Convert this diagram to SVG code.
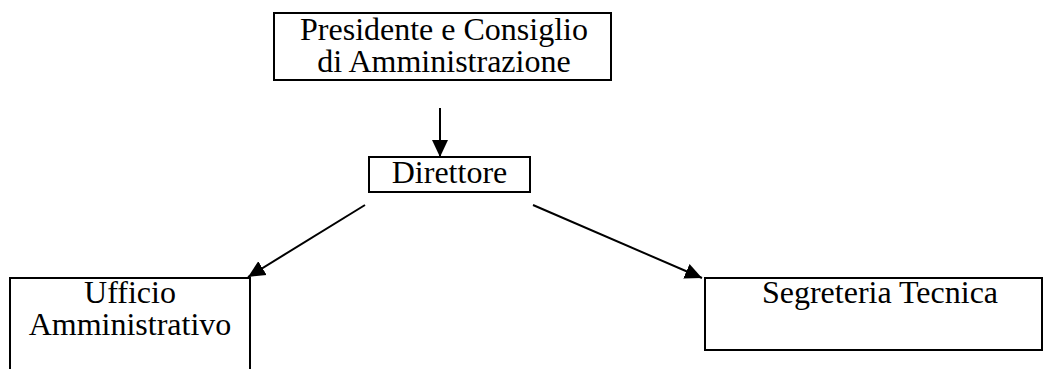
<svg xmlns="http://www.w3.org/2000/svg" width="1045" height="369" viewBox="0 0 1045 369">
<style>
.box{fill:#fff;stroke:#000;stroke-width:2}
.t{font-family:"Liberation Serif","Times New Roman",serif;font-size:32px;fill:#000;text-anchor:middle}
.c{stroke:#000;stroke-width:2;fill:none;marker-end:url(#ah)}
</style>
<defs>
<marker id="ah" markerUnits="userSpaceOnUse" markerWidth="18" markerHeight="18" viewBox="0 0 18 18" refX="17" refY="9" orient="auto">
<path d="M0,1 L17,9 L0,17 Z" fill="#000"/>
</marker>
</defs>
<rect width="1045" height="369" fill="#fff"/>
<g id="connectors">
<line class="c" x1="440" y1="108" x2="440" y2="157"/>
<line class="c" x1="365" y1="205" x2="248" y2="277"/>
<line class="c" x1="533" y1="205" x2="702" y2="278"/>
</g>
<g id="presidente">
<rect class="box" x="274" y="13" width="337" height="67"/>
<text class="t" x="444" y="40">Presidente e Consiglio<tspan x="444" y="72">di Amministrazione</tspan></text>
</g>
<g id="direttore">
<rect class="box" x="369" y="157" width="161" height="35"/>
<text class="t" x="449.5" y="183">Direttore</text>
</g>
<g id="ufficio">
<rect class="box" x="10" y="278" width="240" height="110"/>
<text class="t" x="130" y="303">Ufficio<tspan x="130" y="335">Amministrativo</tspan></text>
</g>
<g id="segreteria">
<rect class="box" x="705" y="278" width="337" height="72"/>
<text class="t" x="880" y="303">Segreteria Tecnica</text>
</g>
</svg>
